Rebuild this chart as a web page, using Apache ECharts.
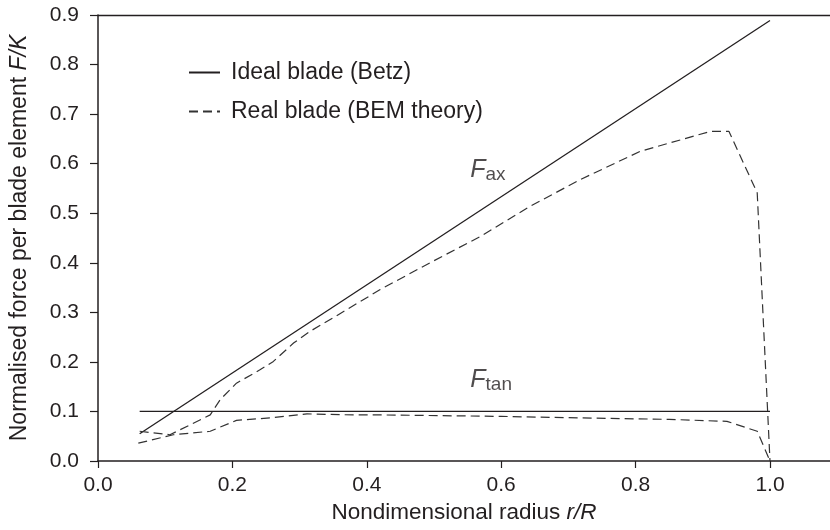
<!DOCTYPE html>
<html>
<head>
<meta charset="utf-8">
<script src="https://cdn.jsdelivr.net/npm/echarts@6/dist/echarts.min.js"></script>
<style>
  html, body { margin: 0; padding: 0; background: #fff; }
  #main { width: 830px; height: 530px; }
</style>
</head>
<body>
<div id="main"></div>
<script>
// ideal blade (Betz)
const idealR = [0.062, 1.0];
const idealAx = [0.055, 0.889];
const idealTan = [0.1, 0.1];

// real blade (BEM theory), axial force
const realAxR = [0.062, 0.107, 0.167, 0.182, 0.206, 0.241, 0.261, 0.291, 0.316, 0.350, 0.420, 0.494, 0.569, 0.643, 0.718, 0.807, 0.911, 0.939, 0.981, 1.0];
const realAx = [0.060, 0.053, 0.093, 0.124, 0.157, 0.184, 0.201, 0.238, 0.262, 0.289, 0.346, 0.400, 0.453, 0.514, 0.568, 0.625, 0.665, 0.665, 0.541, 0.0];

// real blade (BEM theory), tangential force
const realTanR = [0.060, 0.112, 0.167, 0.206, 0.256, 0.311, 0.380, 0.420, 0.600, 0.718, 0.850, 0.936, 0.981, 1.0];
const realTan = [0.036, 0.053, 0.060, 0.082, 0.087, 0.095, 0.093, 0.093, 0.090, 0.087, 0.084, 0.080, 0.060, 0.0];

const xTicks = [0, 0.2, 0.4, 0.6, 0.8, 1.0];

// curve labels
const labelPos = [[0.554, 0.588], [0.554, 0.164]];
const labelText = ['{f|F}{s|ax}', '{f|F}{s|tan}'];

const ink = '#231f20';
const font = "'Liberation Sans', Arial, sans-serif";
const pairs = (xs, ys) => xs.map((x, i) => [x, ys[i]]);

const solid = { color: ink, width: 1.3, type: 'solid' };
const dashed = { color: '#333', width: 1.2, type: [9, 5] };

var chart = echarts.init(document.getElementById('main'));
chart.setOption({
    animation: false,
    backgroundColor: '#fff',
    textStyle: { fontFamily: font },
    grid: { left: 98, right: 0, top: 15, bottom: 69 },
    legend: {
        data: ['Ideal blade (Betz)', 'Real blade (BEM theory)'],
        orient: 'vertical',
        left: 183,
        top: 56,
        itemWidth: 31,
        itemHeight: 14,
        itemGap: 16,
        itemStyle: { opacity: 0, borderWidth: 0 },
        textStyle: { fontSize: 23, color: ink, fontFamily: font, padding: [0, 0, 0, 6] }
    },
    xAxis: [{
        type: 'value',
        min: 0,
        max: 1.0893,
        interval: 0.2,
        splitLine: { show: false },
        axisLine: { lineStyle: { color: ink, width: 1.5 } },
        axisTick: { show: true, length: 7, lineStyle: { color: ink, width: 1.2 }, customValues: xTicks },
        axisLabel: { fontSize: 21, color: ink, margin: 14, customValues: xTicks,
            formatter: v => v.toFixed(1) },
        name: 'Nondimensional radius {i|r/R}',
        nameLocation: 'middle',
        nameGap: 40,
        nameTextStyle: {
            fontSize: 22.5, color: ink, fontFamily: font,
            rich: { i: { fontSize: 22.5, color: ink, fontStyle: 'italic', fontFamily: font } }
        }
    }, {
        type: 'value',
        position: 'top',
        min: 0,
        max: 1.0893,
        axisLine: { show: true, lineStyle: { color: ink, width: 1.3 } },
        axisTick: { show: false },
        axisLabel: { show: false },
        splitLine: { show: false }
    }],
    yAxis: {
        type: 'value',
        min: 0,
        max: 0.9,
        interval: 0.1,
        splitLine: { show: false },
        axisLine: { show: true, lineStyle: { color: ink, width: 1.5 } },
        axisTick: { show: true, length: 8, lineStyle: { color: ink, width: 1.2 } },
        axisLabel: { fontSize: 21, color: ink, margin: 19, formatter: v => v.toFixed(1) },
        name: 'Normalised force per blade element {i|F/K}',
        nameLocation: 'middle',
        nameGap: 67,
        nameTextStyle: {
            fontSize: 23, color: ink, fontFamily: font,
            rich: { i: { fontSize: 23, color: ink, fontStyle: 'italic', fontFamily: font } }
        }
    },
    series: [
        { name: 'Ideal blade (Betz)', type: 'line', data: pairs(idealR, idealAx), symbol: 'none', lineStyle: solid, itemStyle: { color: ink } },
        { name: 'Ideal blade (Betz)', type: 'line', data: pairs(idealR, idealTan), symbol: 'none', lineStyle: solid, itemStyle: { color: ink } },
        { name: 'Real blade (BEM theory)', type: 'line', data: pairs(realAxR, realAx), symbol: 'none', lineStyle: dashed, itemStyle: { color: '#333' } },
        { name: 'Real blade (BEM theory)', type: 'line', data: pairs(realTanR, realTan), symbol: 'none', lineStyle: dashed, itemStyle: { color: '#333' } },
        {
            name: 'labels', type: 'scatter', symbolSize: 0, silent: true,
            data: labelPos.map((p, i) => ({ value: p, label: { formatter: labelText[i] } })),
            label: {
                show: true, position: 'right', distance: 0,
                rich: {
                    f: { fontSize: 25, fontStyle: 'italic', color: ink, fontFamily: font, lineHeight: 30 },
                    s: { fontSize: 19, color: ink, fontFamily: font, verticalAlign: 'bottom', lineHeight: 20 }
                }
            }
        }
    ]
});
</script>
</body>
</html>
